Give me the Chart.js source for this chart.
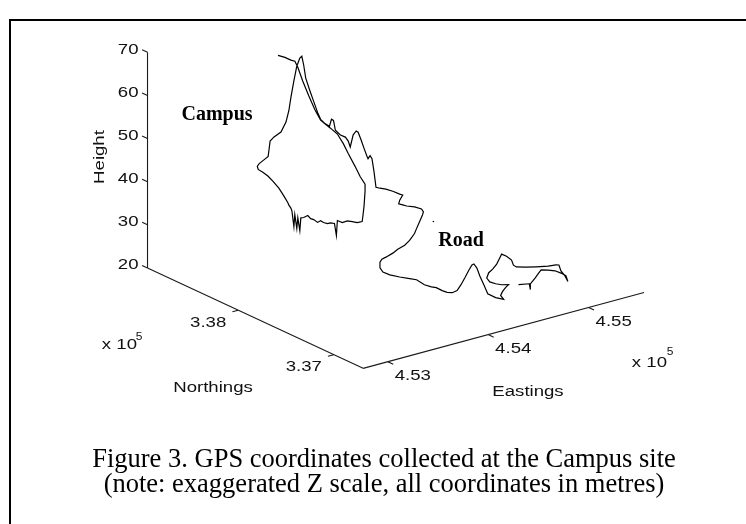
<!DOCTYPE html>
<html>
<head>
<meta charset="utf-8">
<title>GPS coordinates - Campus site</title>
<script src="https://cdn.jsdelivr.net/npm/chart.js@4.4.1/dist/chart.umd.min.js"></script>
<style>
  body { margin: 0; background: #fff; }
  #wrap { position: relative; width: 746px; height: 524px; overflow: hidden; }
  #myChart { position: absolute; left: 0; top: 0; }
  #frame { position: absolute; left: 9px; top: 19px; width: 800px; height: 600px;
           border-left: 2px solid #000; border-top: 2px solid #000; }
  #caption { position: absolute; left: 0; top: 446px; width: 768px; text-align: center;
             font-family: "Liberation Serif", "Times New Roman", serif; font-size: 26.5px;
             color: #000; }
  #caption div { height: 25px; line-height: 25px; }
</style>
</head>
<body>
<div id="wrap">
  <canvas id="myChart" width="746" height="524"></canvas>
  <div id="frame"></div>
  <div id="caption"><div>Figure 3. GPS coordinates collected at the Campus site</div><div>(note: exaggerated Z scale, all coordinates in metres)</div></div>
</div>
<script>
// setup - GPS track, metres
const campusEast = [
  453810, 453879, 453938, 453978, 454007, 454056, 454116, 454175, 454234,
  454093, 454142, 454211, 454270, 454319,
  454198, 454247, 454296,
  454106, 454096, 454086, 454077,
  453932, 453883, 453834, 453784, 453735, 453725, 453706, 453666, 453637, 453597,
  453568, 453538, 453499, 453469, 453440, 453400, 453371, 453361, 453341, 453331,
  453311, 453302, 453282, 453272, 453252, 453242, 453203, 453154,
  453380, 453331, 453282, 453232, 453223, 453242, 453292, 453331,
  453531, 453541, 453580, 453649, 453699, 453728, 453748,
  453968, 453997, 454027, 454047, 454066, 454086, 454125, 454165, 454204, 454234,
  454083, 454132, 454152, 454172, 454191, 454241, 454290, 454319, 454339,
  454178, 454208, 454227, 454257, 454287, 454316, 454326, 454346, 454365, 454385, 454405
];
const campusNorth = [
  338693, 338693, 338693, 338693, 338693, 338693, 338693, 338693, 338693,
  338493, 338493, 338493, 338493, 338493,
  338293, 338293, 338293,
  338093, 338093, 338093, 338093,
  337993, 337993, 337993, 337993, 337993, 337993, 337993, 337993, 337993, 337993,
  337993, 337993, 337993, 337993, 337993, 337993, 337993, 337993, 337993, 337993,
  337993, 337993, 337993, 337993, 337993, 337993, 337993, 337993,
  338293, 338293, 338293, 338293, 338293, 338293, 338293, 338293,
  338493, 338493, 338493, 338493, 338493, 338493, 338493,
  338693, 338693, 338693, 338693, 338693, 338693, 338693, 338693, 338693, 338693,
  338493, 338493, 338493, 338493, 338493, 338493, 338493, 338493, 338493,
  338293, 338293, 338293, 338293, 338293, 338293, 338293, 338293, 338293, 338293, 338293
];
const campusHeight = [
  65.3, 64.4, 63.4, 62.9, 61.3, 57.8, 54.0, 50.5, 47.6,
  49.6, 48.4, 46.6, 44.0, 41.4,
  41.2, 38.6, 36.5,
  38.2, 34.8, 32.8, 31.3,
  33.0, 33.5, 34.0, 33.9, 34.7, 31.3, 34.2, 34.6, 34.6, 35.1,
  35.7, 35.5, 36.4, 36.8, 37.7, 37.5, 37.6, 34.7, 37.8, 35.4,
  38.7, 36.0, 39.8, 40.5, 41.3, 41.9, 43.7, 45.8,
  42.9, 44.4, 45.6, 46.6, 47.4, 47.9, 48.5, 49.0,
  47.4, 49.2, 49.9, 50.6, 52.6, 55.1, 58.0,
  58.4, 61.6, 63.3, 63.6, 61.4, 58.3, 55.3, 52.4, 49.6, 47.8,
  49.9, 48.9, 50.4, 50.0, 47.6, 46.2, 45.4, 44.3, 42.8,
  48.7, 49.4, 49.0, 47.0, 44.8, 42.8, 42.2, 42.8, 42.0, 38.9, 35.1
];

const roadEast = [
  454254, 454313, 454382, 454451, 454481, 454451, 454441, 454481, 454520, 454599, 454668, 454687,
  454487, 454458, 454428, 454408, 454359, 454310, 454241, 454192, 454123, 454083, 454064, 454064,
  453903, 453972, 454070, 454169, 454238,
  454126, 454195, 454244,
  454113, 454162, 454212, 454261, 454300, 454340, 454379, 454409, 454428,
  454268, 454297, 454337, 454376, 454455, 454534, 454504, 454524, 454553, 454583,
  454514, 454455, 454396, 454366, 454386, 454425, 454465, 454494, 454514, 454563,
  454613, 454632, 454662, 454750, 454859, 454977, 455056, 455085, 455105, 455145,
  455174, 455154, 455105, 455046, 454977, 454908, 454879, 454849, 454800, 454800,
  454790, 454682
];
const roadNorth = [
  338093, 338093, 338093, 338093, 338093, 338093, 338093, 338093, 338093, 338093, 338093, 338093,
  337893, 337893, 337893, 337893, 337893, 337893, 337893, 337893, 337893, 337893, 337893, 337893,
  337693, 337693, 337693, 337693, 337693,
  337493, 337493, 337493,
  337293, 337293, 337293, 337293, 337293, 337293, 337293, 337293, 337293,
  337093, 337093, 337093, 337093, 337093, 337093, 337093, 337093, 337093, 337093,
  337093, 337093, 337093, 337093, 337093, 337093, 337093, 337093, 337093, 337093,
  337093, 337093, 337093, 337093, 337093, 337093, 337093, 337093, 337093, 337093,
  337093, 337093, 337093, 337093, 337093, 337093, 337093, 337093, 337093, 337093,
  337093, 337093
];
const roadHeight = [
  37.9, 37.3, 36.4, 35.3, 34.9, 33.9, 33.1, 32.6, 32.1, 31.4, 30.5, 29.7,
  32.3, 30.9, 29.5, 28.5, 27.2, 26.4, 25.9, 25.3, 24.8, 24.6, 24.0, 22.7,
  24.8, 23.7, 22.6, 21.6, 20.9,
  22.5, 21.6, 21.1,
  23.3, 22.6, 22.2, 22.4, 23.5, 24.9, 26.4, 27.4, 27.5,
  29.6, 27.6, 25.3, 23.0, 21.6, 20.7, 21.8, 22.6, 23.3, 23.8,
  24.2, 24.8, 25.6, 26.7, 27.8, 28.4, 29.3, 30.5, 31.3, 30.5,
  29.3, 28.0, 27.4, 26.8, 26.2, 25.6, 25.4, 25.2, 23.7, 22.3,
  20.8, 22.3, 23.2, 24.1, 24.7, 25.2, 24.5, 23.7, 22.6, 21.3,
  22.7, 23.2
];

// a single stray fix near the road label
const strayEast = [454596];
const strayNorth = [337893];
const strayHeight = [30.1];

// axis limits and ticks
const eastLimits = [452754, 455552];
const northLimits = [336693, 338949];
const heightLimits = [20, 70];
const eastTicks = [453000, 454000, 455000];
const eastTickLabels = ['4.53', '4.54', '4.55'];
const northTicks = [337000, 338000];
const northTickLabels = ['3.37', '3.38'];
const heightTicks = [20, 30, 40, 50, 60, 70];

// view: where the (Emin, Nmin, Hmin) corner sits and how each metre projects
const view = { ox: 363, oy: 370, ex: 0.1015, ey: -0.0275, nx: -0.0966, ny: -0.0452, hz: 4.38 };

function project(e, n, h) {
  const de = e - eastLimits[0];
  const dn = n - northLimits[0];
  return {
    x: view.ox + de * view.ex + dn * view.nx,
    y: view.oy + de * view.ey + dn * view.ny - (h - heightLimits[0]) * view.hz
  };
}

const trackEast = campusEast.concat(roadEast);
const trackNorth = campusNorth.concat(roadNorth);
const trackHeight = campusHeight.concat(roadHeight);
const trackPoints = trackEast.map((e, i) => project(e, trackNorth[i], trackHeight[i]));
const strayPoints = strayEast.map((e, i) => project(e, strayNorth[i], strayHeight[i]));

// box axes, ticks and labels drawn under the track
const axesPlugin = {
  id: 'axes3d',
  beforeDatasetsDraw(chart) {
    const ctx = chart.ctx;
    const xs = chart.scales.x, ys = chart.scales.y;
    const pix = (e, n, h) => {
      const p = project(e, n, h);
      return [xs.getPixelForValue(p.x), ys.getPixelForValue(p.y)];
    };
    const dir = (a, b) => {
      const dx = b[0] - a[0], dy = b[1] - a[1], l = Math.hypot(dx, dy);
      return [dx / l, dy / l];
    };
    const seg = (a, b) => {
      ctx.beginPath(); ctx.moveTo(a[0], a[1]); ctx.lineTo(b[0], b[1]); ctx.stroke();
    };
    const text = (t, x, y, align, size, rot) => {
      ctx.save();
      ctx.translate(x, y);
      if (rot) ctx.rotate(rot);
      ctx.scale(1.2, 1);
      ctx.font = size + 'px "Liberation Sans", Arial, sans-serif';
      ctx.textAlign = align;
      ctx.textBaseline = 'middle';
      ctx.fillText(t, 0, 0);
      ctx.restore();
    };
    const [e0, e1] = eastLimits, [n0, n1] = northLimits, [h0, h1] = heightLimits;
    const tickLen = 6;

    ctx.save();
    ctx.strokeStyle = '#1a1a1a';
    ctx.fillStyle = '#111';
    ctx.lineWidth = 1.1;

    seg(pix(e0, n1, h0), pix(e0, n1, h1));
    seg(pix(e0, n1, h0), pix(e0, n0, h0));
    seg(pix(e0, n0, h0), pix(e1, n0, h0));

    heightTicks.forEach(h => {
      const p = pix(e0, n1, h);
      const d = dir(p, pix(e0, n1 + 100, h));
      seg(p, [p[0] + d[0] * tickLen, p[1] + d[1] * tickLen]);
      text(String(h), p[0] - 9, p[1] - 3, 'right', 15.5);
    });
    northTicks.forEach((n, i) => {
      const p = pix(e0, n, h0);
      const d = dir(p, pix(e0 - 100, n, h0));
      seg(p, [p[0] + d[0] * tickLen, p[1] + d[1] * tickLen]);
      text(northTickLabels[i], p[0] - 30, p[1] + 12.5, 'center', 15.5);
    });
    eastTicks.forEach((e, i) => {
      const p = pix(e, n0, h0);
      const d = dir(p, pix(e, n0 - 100, h0));
      seg(p, [p[0] + d[0] * tickLen, p[1] + d[1] * tickLen]);
      text(eastTickLabels[i], p[0] + 25, p[1] + 14.5, 'center', 15.5);
    });

    // exponent markers and axis titles
    text('x 10', 137, 345, 'right', 15.5);
    text('5', 139, 337, 'center', 10);
    text('x 10', 667, 363, 'right', 15.5);
    text('5', 670, 352, 'center', 10);
    text('Northings', 213, 388, 'center', 15.5);
    text('Eastings', 528, 392, 'center', 15.5);
    text('Height', 100, 157, 'center', 15.5, -Math.PI / 2);

    // annotations
    ctx.font = 'bold 20px "Liberation Serif", "Times New Roman", serif';
    ctx.fillStyle = '#000';
    ctx.textAlign = 'center';
    ctx.textBaseline = 'middle';
    ctx.fillText('Campus', 217, 115);
    ctx.fillText('Road', 461, 241);
    ctx.restore();
  }
};

// config
const config = {
  type: 'scatter',
  data: {
    datasets: [{
      label: 'GPS track',
      data: trackPoints,
      showLine: true,
      borderColor: '#000',
      borderWidth: 1.2,
      pointRadius: 0,
      tension: 0
    }, {
      label: 'stray fix',
      data: strayPoints,
      showLine: false,
      pointRadius: 0.8,
      backgroundColor: '#000',
      borderWidth: 0
    }]
  },
  options: {
    responsive: false,
    animation: false,
    events: [],
    layout: { padding: 0 },
    plugins: {
      legend: { display: false },
      tooltip: { enabled: false }
    },
    scales: {
      x: { type: 'linear', display: false, min: 0, max: 746 },
      y: { type: 'linear', display: false, min: 0, max: 524, reverse: true }
    }
  },
  plugins: [axesPlugin]
};

// render init block
const myChart = new Chart(
  document.getElementById('myChart'),
  config
);
</script>
</body>
</html>
